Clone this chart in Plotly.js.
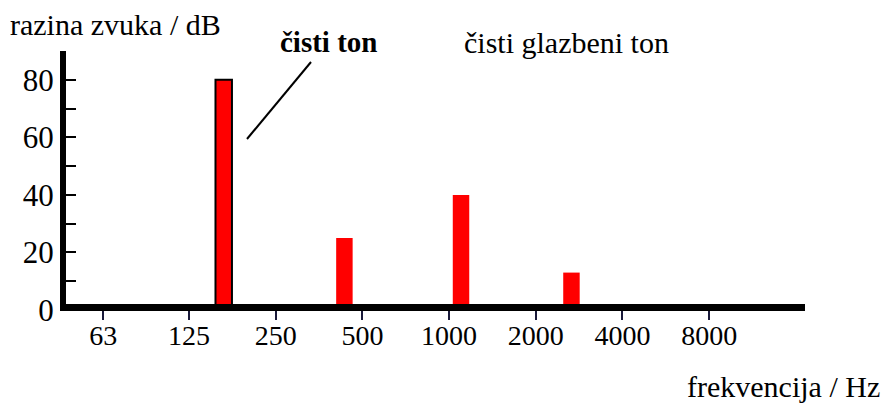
<!DOCTYPE html>
<html>
<head>
<meta charset="utf-8">
<script src="https://cdn.plot.ly/plotly-3.0.1.min.js"></script>
<style>html,body{margin:0;padding:0;background:#fff;}#chart{width:886px;height:405px;}</style>
</head>
<body>
<div id="chart"></div>
<script>
// Data
var toneFreqs = [165, 433, 1100, 2660];       // Hz
var toneLevels = [80, 25, 40, 13];            // dB
var tickFreqs = [63, 125, 250, 500, 1000, 2000, 4000, 8000];
var tickLabels = ['63', '125', '250', '500', '1000', '2000', '4000', '8000'];
var yTickVals = [0, 10, 20, 30, 40, 50, 60, 70, 80];
var yTickLabels = ['0', '', '20', '', '40', '', '60', '', '80'];

var W = 886, H = 405;
var M = {l: 66, r: 81, t: 51, b: 95};
function px(x) { return (x - M.l) / (W - M.l - M.r); }
function py(y) { return (H - M.b - y) / (H - M.t - M.b); }
var serif = 'Liberation Serif';

var trace = {
  type: 'bar',
  x: toneFreqs.map(function (f) { return Math.log2(f); }),
  y: toneLevels,
  width: 0.19,
  marker: {
    color: '#ff0000',
    line: {color: '#000000', width: [2, 0, 0, 0]}
  },
  hoverinfo: 'skip'
};

var layout = {
  width: W, height: H,
  margin: M,
  paper_bgcolor: '#ffffff',
  plot_bgcolor: '#ffffff',
  showlegend: false,
  xaxis: {
    range: [5.547, 14.071],
    tickvals: tickFreqs.map(function (f) { return Math.log2(f); }),
    ticktext: tickLabels,
    ticks: 'outside', ticklen: 9, tickwidth: 2, tickcolor: '#1a1a3a',
    ticklabelstandoff: -9,
    showline: false,
    showgrid: false, zeroline: false,
    tickfont: {family: serif, size: 28, color: '#000000'},
    fixedrange: true
  },
  yaxis: {
    range: [0, 90],
    tickvals: yTickVals,
    ticktext: yTickLabels,
    ticks: 'inside', ticklen: 10, tickwidth: 2, tickcolor: '#000000',
    showline: true, linewidth: 6, linecolor: '#000000',
    showgrid: false, zeroline: false,
    tickfont: {family: serif, size: 31, color: '#000000'},
    fixedrange: true
  },
  shapes: [
    {type: 'line', xref: 'paper', yref: 'paper', layer: 'above',
     x0: px(60), y0: py(307.5), x1: px(805), y1: py(307.5),
     line: {color: '#000000', width: 7}},
    {type: 'line', xref: 'paper', yref: 'paper',
     x0: px(247), y0: py(139), x1: px(311), y1: py(62),
     line: {color: '#000000', width: 2}}
  ],
  annotations: [
    {text: 'razina zvuka / dB', xref: 'paper', yref: 'paper', x: px(8), y: py(25),
     xanchor: 'left', yanchor: 'middle', showarrow: false,
     font: {family: serif, size: 30, color: '#000000'}},
    {text: '<b>čisti ton</b>', xref: 'paper', yref: 'paper', x: px(328), y: py(42),
     xanchor: 'center', yanchor: 'middle', showarrow: false,
     font: {family: serif, size: 29, color: '#000000'}},
    {text: 'čisti glazbeni ton', xref: 'paper', yref: 'paper', x: px(566), y: py(42),
     xanchor: 'center', yanchor: 'middle', showarrow: false,
     font: {family: serif, size: 30, color: '#000000'}},
    {text: 'frekvencija / Hz', xref: 'paper', yref: 'paper', x: px(882), y: py(386),
     xanchor: 'right', yanchor: 'middle', showarrow: false,
     font: {family: serif, size: 30, color: '#000000'}}
  ]
};

Plotly.newPlot('chart', [trace], layout, {displayModeBar: false, staticPlot: true});
</script>
</body>
</html>
